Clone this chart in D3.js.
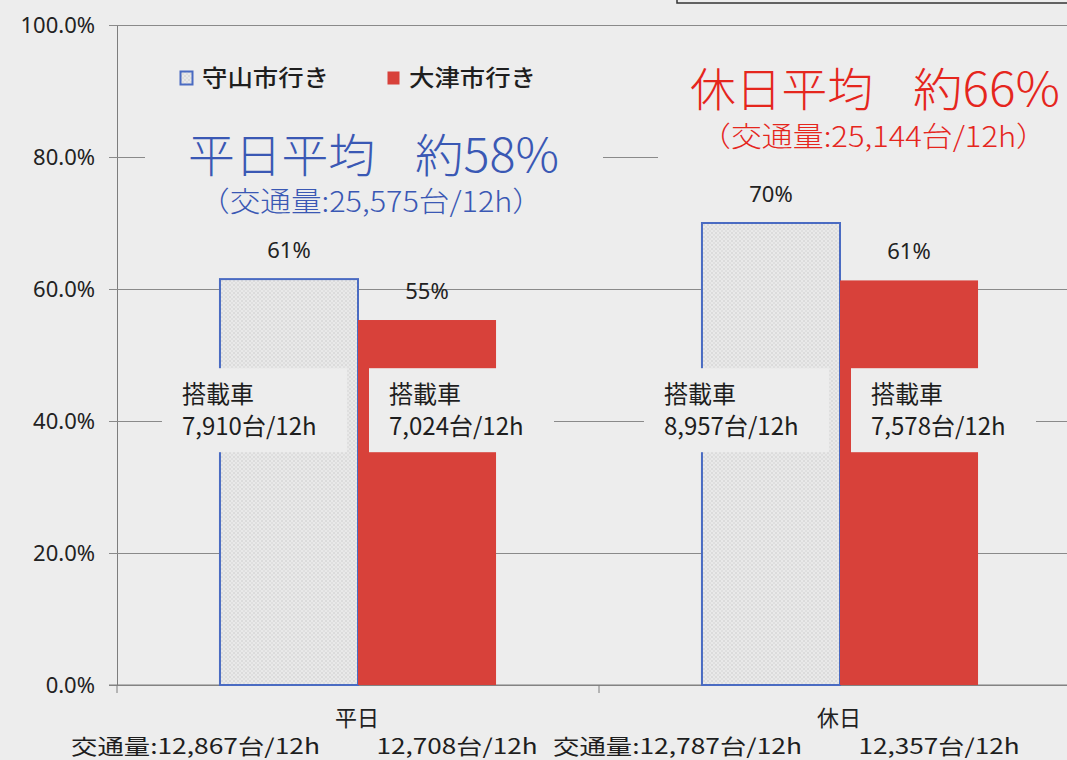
<!DOCTYPE html>
<meta charset="utf-8">
<style>
  body { margin: 0; background: #ededed; }
  svg { display: block; }
  text { font-family: "Noto Sans CJK JP", "Noto Sans", sans-serif; }
  .num { font-family: "Noto Sans", "Liberation Sans", sans-serif; }
</style>
<body>
<div id="chart"></div>
<script src="https://cdn.jsdelivr.net/npm/d3@7"></script>
<script>
// values
const categories = ["平日", "休日"];
const series = ["守山市行き", "大津市行き"];
const ratios = [[61.5, 55.3], [70.0, 61.3]];          // % of vehicles
const ratioLabels = [["61%", "55%"], ["70%", "61%"]];
const loaded = [["7,910", "7,024"], ["8,957", "7,578"]];   // 搭載車 台/12h
const traffic = [["12,867", "12,708"], ["12,787", "12,357"]]; // 交通量 台/12h
const avgTitles = ["平日平均", "休日平均"];
const avgValues = ["約58%", "約66%"];
const avgTotals = ["25,575", "25,144"];
const yTicks = [0, 20, 40, 60, 80, 100];

const width = 1067, height = 760;
const margin = {top: 25, left: 117, bottom: 75};
const plotRight = 1081;
const bg = "#ededed";
const red = "#d8413a", blue = "#4a6bc2";
const titleColors = ["#3a58b4", "#e5261d"];

const y = d3.scaleLinear().domain([0, 100]).range([height - margin.bottom, margin.top]);
const x0 = d3.scaleBand().domain(categories).range([margin.left, plotRight]);
const x1 = d3.scaleBand().domain(series).range([0, x0.bandwidth()]).paddingOuter(0.746);

const svg = d3.select("#chart").append("svg")
    .attr("width", width).attr("height", height);

svg.append("rect").attr("width", width).attr("height", height).attr("fill", bg);

const defs = svg.append("defs");
const pat = defs.append("pattern")
    .attr("id", "dots").attr("patternUnits", "userSpaceOnUse")
    .attr("width", 4).attr("height", 4);
pat.append("rect").attr("width", 4).attr("height", 4).attr("fill", "#e9e9e9");
pat.append("circle").attr("cx", 1).attr("cy", 1).attr("r", 0.8).attr("fill", "#c9c9c9");
pat.append("circle").attr("cx", 3).attr("cy", 3).attr("r", 0.8).attr("fill", "#d2d2d2");

const fills = [ "url(#dots)", red ];

// scanned page frame at top right
svg.append("rect").attr("x", 677).attr("y", -20).attr("width", 420).attr("height", 23)
    .attr("fill", "none").attr("stroke", "#333").attr("stroke-width", 1.5);

// gridlines + y axis
const yAxis = svg.append("g")
    .attr("transform", `translate(${margin.left},0)`)
    .call(d3.axisLeft(y).tickValues(yTicks).tickFormat(d => d.toFixed(1) + "%")
        .tickSize(-(plotRight - margin.left)).tickPadding(15).tickSizeOuter(0));
yAxis.select(".domain").attr("stroke", "#7d7d7d");
yAxis.selectAll(".tick line").attr("stroke", "#8a8a8a").attr("x1", -8);
yAxis.selectAll(".tick text").attr("class", "num").attr("font-size", 22)
    .attr("fill", "#222").attr("x", -22);

// x axis
const xAxis = svg.append("g")
    .attr("transform", `translate(0,${y(0)})`)
    .call(d3.axisBottom(x0).tickSize(0).tickFormat(""));
xAxis.select(".domain").attr("stroke", "#7d7d7d").attr("d", `M${margin.left - 8},0H${plotRight}`);
[margin.left, ...categories.map(c => x0(c) + x0.bandwidth())].forEach(t =>
    xAxis.append("line").attr("x1", t).attr("x2", t).attr("y1", 0).attr("y2", 8)
        .attr("stroke", "#7d7d7d"));

// bars
const groups = svg.append("g").selectAll("g").data(categories).join("g")
    .attr("transform", d => `translate(${x0(d)},0)`);
groups.selectAll("rect").data((c, i) => series.map((s, j) => ({s, j, v: ratios[i][j]})))
    .join("rect")
    .attr("x", d => x1(d.s))
    .attr("width", x1.bandwidth())
    .attr("y", d => y(d.v))
    .attr("height", d => y(0) - y(d.v))
    .attr("fill", d => fills[d.j])
    .attr("stroke", d => d.j === 0 ? blue : "none")
    .attr("stroke-width", 2);

// value labels
groups.selectAll("text.val").data((c, i) => series.map((s, j) => ({s, v: ratios[i][j], t: ratioLabels[i][j]})))
    .join("text").attr("class", "val num")
    .attr("x", d => x1(d.s) + x1.bandwidth() / 2)
    .attr("y", d => y(d.v) - 21)
    .attr("text-anchor", "middle").attr("font-size", 22).attr("fill", "#222")
    .text(d => d.t);

// 搭載車 boxes
groups.each(function(c, i) {
  const g = d3.select(this);
  series.forEach((s, j) => {
    const bx = j === 0 ? x1(s) - 58 : x1(s) + 11;
    const by = y(48);
    g.append("rect").attr("x", bx).attr("y", by).attr("width", 185).attr("height", 84)
        .attr("fill", bg);
    const t = g.append("text").attr("x", bx + 20).attr("font-size", 24).attr("fill", "#1e1e1e");
    t.append("tspan").attr("x", bx + 20).attr("y", by + 35).text("搭載車");
    t.append("tspan").attr("x", bx + 20).attr("y", by + 67).text(loaded[i][j] + "台/12h");
  });
});

// category labels
svg.append("g").selectAll("text").data(categories).join("text")
    .attr("x", d => x0(d) + x0.bandwidth() / 2 - 1)
    .attr("y", y(0) + 41)
    .attr("text-anchor", "middle").attr("font-size", 22).attr("fill", "#222")
    .text(d => d);

// traffic labels under the axis
const trafficLayout = [[-38, 249, "end"], [30, 161, "middle"]];
categories.forEach((c, i) => {
  series.forEach((s, j) => {
    const [dx, len, anchor] = trafficLayout[j];
    const bx = x0(c) + x1(s);
    const xx = j === 0 ? bx + x1.bandwidth() + dx : bx + x1.bandwidth() / 2 + dx;
    svg.append("text")
        .attr("x", xx).attr("y", y(0) + 69)
        .attr("text-anchor", anchor).attr("font-size", 21).attr("fill", "#1e1e1e")
        .attr("textLength", len).attr("lengthAdjust", "spacingAndGlyphs")
        .text((j === 0 ? "交通量:" : "") + traffic[i][j] + "台/12h");
  });
});

// legend
const legend = svg.append("g").attr("transform", "translate(180,71)");
series.forEach((s, j) => {
  const lx = j * 207;
  legend.append("rect").attr("x", lx + 0.5).attr("y", 0.5)
      .attr("width", 12).attr("height", 13)
      .attr("fill", fills[j]).attr("stroke", j ? "none" : blue).attr("stroke-width", 2);
  legend.append("text").attr("x", lx + 22).attr("y", 15)
      .attr("font-size", 23).attr("font-weight", 500).attr("fill", "#1e1e1e")
      .attr("textLength", 127).attr("lengthAdjust", "spacingAndGlyphs")
      .text(s);
});

// average annotations
const avgLayout = [
  {box: [145, 128, 458, 90], tx: 188, tw: 187, vx: 415, vw: 144, ty: 172, sx: 199, sw: 344, sy: 212},
  {box: [658, 60, 420, 100], tx: 690, tw: 183, vx: 913, vw: 147, ty: 106, sx: 700, sw: 347, sy: 147}
];
avgLayout.forEach((a, i) => {
  svg.append("rect").attr("x", a.box[0]).attr("y", a.box[1]).attr("width", a.box[2]).attr("height", a.box[3])
      .attr("fill", bg);
  svg.append("text").attr("x", a.tx).attr("y", a.ty).attr("font-size", 46).attr("font-weight", 300)
      .attr("fill", titleColors[i]).attr("textLength", a.tw).attr("lengthAdjust", "spacingAndGlyphs")
      .text(avgTitles[i]);
  svg.append("text").attr("x", a.vx).attr("y", a.ty).attr("font-size", 46).attr("font-weight", 300)
      .attr("fill", titleColors[i]).attr("textLength", a.vw).attr("lengthAdjust", "spacingAndGlyphs")
      .text(avgValues[i]);
  svg.append("text").attr("x", a.sx).attr("y", a.sy).attr("font-size", 28).attr("font-weight", 300)
      .attr("fill", titleColors[i]).attr("textLength", a.sw).attr("lengthAdjust", "spacingAndGlyphs")
      .text("（交通量:" + avgTotals[i] + "台/12h）");
});
</script>
</body>
